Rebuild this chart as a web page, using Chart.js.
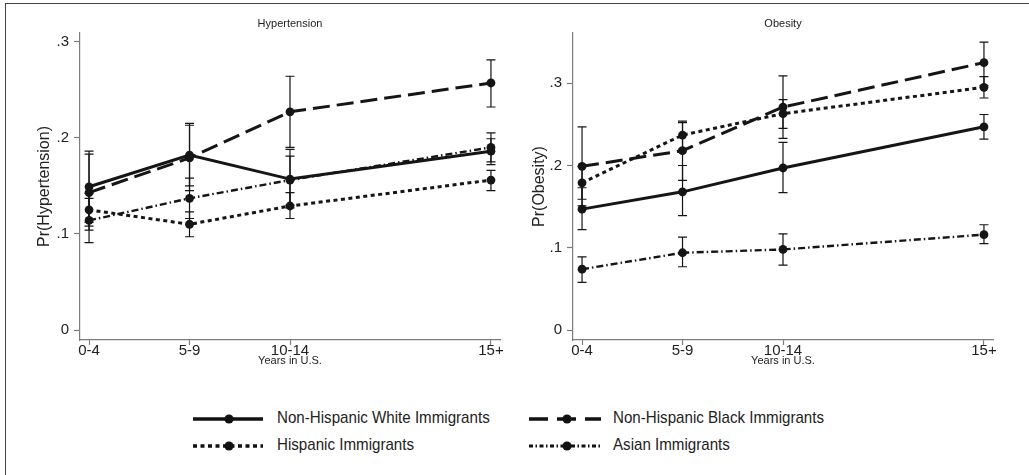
<!DOCTYPE html>
<html lang="en">
<head>
    <meta charset="UTF-8">
    <title>Hypertension and Obesity by Years in U.S.</title>
    <script src="https://cdn.jsdelivr.net/npm/chart.js"></script>
    <style>
        body { margin: 0; background: #fff; font-family: "Liberation Sans", Arial, sans-serif; }
        #wrap { position: relative; width: 1029px; height: 475px; overflow: hidden; }
        #frame { position: absolute; left: 5px; top: 3px; right: -10px; bottom: -10px;
                 border-left: 1.5px solid #444; border-top: 1.5px solid #444; }
        .panel { position: absolute; top: 0; height: 380px; }
        .leg { position: absolute; height: 20px; }
        .leg svg { position: absolute; left: 0; top: 0; }
        .leg span { position: absolute; top: -1px; font-size: 17px; color: #222; white-space: nowrap;
                    transform: scaleX(0.89); transform-origin: left center; line-height: 20px; }
    </style>
</head>
<body>
<div id="wrap">
    <div id="frame"></div>
    <div class="panel" style="left:0;width:515px"><canvas id="hyp"></canvas></div>
    <div class="panel" style="left:515px;width:514px"><canvas id="obe"></canvas></div>

    <div class="leg" style="left:193px;top:409px">
        <svg width="72" height="20"><line x1="0" y1="10" x2="70" y2="10" stroke="#111" stroke-width="3.5"/><circle cx="36" cy="10" r="4.6" fill="#111"/></svg>
        <span style="left:84px">Non-Hispanic White Immigrants</span>
    </div>
    <div class="leg" style="left:529px;top:409px">
        <svg width="74" height="20"><line x1="0" y1="10" x2="72" y2="10" stroke="#111" stroke-width="3.5" stroke-dasharray="19,9"/><circle cx="38" cy="10" r="4.6" fill="#111"/></svg>
        <span style="left:84px">Non-Hispanic Black Immigrants</span>
    </div>
    <div class="leg" style="left:193px;top:436px">
        <svg width="72" height="20"><line x1="0" y1="10" x2="70" y2="10" stroke="#111" stroke-width="3.5" stroke-dasharray="4,3.5"/><circle cx="36" cy="10" r="4.6" fill="#111"/></svg>
        <span style="left:84px">Hispanic Immigrants</span>
    </div>
    <div class="leg" style="left:529px;top:436px">
        <svg width="74" height="20"><line x1="0" y1="10" x2="72" y2="10" stroke="#111" stroke-width="3" stroke-dasharray="4,2.5,1.5,2.5"/><circle cx="38" cy="10" r="4.6" fill="#111"/></svg>
        <span style="left:84px">Asian Immigrants</span>
    </div>
</div>

<script>
// categories (x positions keep the wider gap before 15+)
const yearGroups = ['0-4', '5-9', '10-14', '15+'];
const yearPos = [0, 1, 2, 4];
const yTicks = [0, 0.1, 0.2, 0.3];

// Hypertension: predicted probability and CI
const hypWhite = [0.149, 0.182, 0.157, 0.186];
const hypWhiteLo = [0.112, 0.150, 0.127, 0.172];
const hypWhiteHi = [0.186, 0.215, 0.188, 0.199];
const hypBlack = [0.143, 0.179, 0.227, 0.257];
const hypBlackLo = [0.104, 0.145, 0.190, 0.232];
const hypBlackHi = [0.183, 0.213, 0.264, 0.281];
const hypHisp = [0.125, 0.110, 0.129, 0.156];
const hypHispLo = [0.108, 0.097, 0.116, 0.145];
const hypHispHi = [0.142, 0.123, 0.143, 0.166];
const hypAsian = [0.114, 0.137, 0.156, 0.190];
const hypAsianLo = [0.091, 0.116, 0.130, 0.175];
const hypAsianHi = [0.137, 0.158, 0.181, 0.205];

// Obesity
const obeWhite = [0.147, 0.168, 0.197, 0.247];
const obeWhiteLo = [0.122, 0.139, 0.167, 0.232];
const obeWhiteHi = [0.173, 0.200, 0.228, 0.262];
const obeBlack = [0.199, 0.218, 0.271, 0.325];
const obeBlackLo = [0.151, 0.182, 0.233, 0.297];
const obeBlackHi = [0.247, 0.252, 0.309, 0.350];
const obeHisp = [0.179, 0.237, 0.263, 0.295];
const obeHispLo = [0.159, 0.220, 0.245, 0.282];
const obeHispHi = [0.199, 0.254, 0.280, 0.308];
const obeAsian = [0.074, 0.094, 0.098, 0.116];
const obeAsianLo = [0.058, 0.077, 0.079, 0.105];
const obeAsianHi = [0.089, 0.113, 0.117, 0.128];

const ink = '#151515';
const axisGray = '#7d7d7d';

// line look per group
const styles = [
    { borderWidth: 3, borderDash: [] },
    { borderWidth: 3, borderDash: [17, 7] },
    { borderWidth: 3, borderDash: [4, 3.5] },
    { borderWidth: 2.4, borderDash: [7, 3, 1.5, 3] }
];

function series(vals, lo, hi, i) {
    return {
        data: yearPos.map((x, k) => ({ x: x, y: vals[k] })),
        lo: lo, hi: hi,
        borderColor: ink,
        borderWidth: styles[i].borderWidth,
        borderDash: styles[i].borderDash,
        pointRadius: 4.4,
        pointBackgroundColor: ink,
        pointBorderWidth: 0,
        tension: 0,
        fill: false
    };
}

// rcap-style error bars drawn through the chart scales
const errorBars = {
    id: 'errorBars',
    beforeDatasetsDraw(chart) {
        const ctx = chart.ctx;
        const xs = chart.scales.x, ys = chart.scales.y;
        ctx.save();
        ctx.strokeStyle = ink;
        ctx.lineWidth = 1.2;
        chart.data.datasets.forEach(ds => {
            yearPos.forEach((xv, k) => {
                const x = xs.getPixelForValue(xv);
                const y1 = ys.getPixelForValue(ds.lo[k]);
                const y2 = ys.getPixelForValue(ds.hi[k]);
                ctx.beginPath();
                ctx.moveTo(x, y1); ctx.lineTo(x, y2);
                ctx.moveTo(x - 4.5, y1); ctx.lineTo(x + 4.5, y1);
                ctx.moveTo(x - 4.5, y2); ctx.lineTo(x + 4.5, y2);
                ctx.stroke();
            });
        });
        ctx.restore();
    }
};

function makePanel(id, title, yTitle, datasets, yMin, yMax, yWidth, yTitlePad, padRight) {
    return new Chart(document.getElementById(id), {
        type: 'line',
        data: { datasets: datasets },
        plugins: [errorBars],
        options: {
            responsive: true,
            maintainAspectRatio: false,
            animation: false,
            layout: { padding: { left: 0, right: padRight, top: 0, bottom: 0 } },
            plugins: {
                legend: { display: false },
                tooltip: { enabled: false },
                title: {
                    display: true, text: title, fullSize: false, color: '#222',
                    font: { family: 'Liberation Sans', size: 11, weight: 'normal' },
                    padding: { top: 17.4, bottom: 2.4 }
                }
            },
            scales: {
                x: {
                    type: 'linear', min: -0.09, max: 4.09,
                    afterBuildTicks: s => { s.ticks = yearPos.map(v => ({ value: v })); },
                    afterFit: s => { s.height = 40; },
                    grid: { drawOnChartArea: false, tickLength: 5, tickColor: axisGray, tickWidth: 1.2 },
                    border: { color: axisGray, width: 1.2 },
                    ticks: {
                        padding: -3, color: '#222', maxRotation: 0,
                        font: { family: 'Liberation Sans', size: 15 },
                        callback: v => yearGroups[yearPos.indexOf(v)]
                    },
                    title: {
                        display: true, text: 'Years in U.S.', color: '#222',
                        font: { family: 'Liberation Sans', size: 11 },
                        padding: { top: 0, bottom: 12 }
                    }
                },
                y: {
                    min: yMin, max: yMax,
                    afterBuildTicks: s => { s.ticks = yTicks.map(v => ({ value: v })); },
                    afterFit: s => { s.width = yWidth; },
                    grid: { drawOnChartArea: false, tickLength: 6, tickColor: axisGray, tickWidth: 1.2 },
                    border: { color: axisGray, width: 1.2 },
                    ticks: {
                        padding: 5, color: '#222',
                        font: { family: 'Liberation Sans', size: 15 },
                        callback: v => v === 0 ? '0' : v.toFixed(1).replace(/^0/, '')
                    },
                    title: {
                        display: true, text: yTitle, color: '#222',
                        font: { family: 'Liberation Sans', size: 16 },
                        padding: { top: yTitlePad, bottom: 0 }
                    }
                }
            }
        }
    });
}

makePanel('hyp', 'Hypertension', 'Pr(Hypertension)', [
    series(hypWhite, hypWhiteLo, hypWhiteHi, 0),
    series(hypBlack, hypBlackLo, hypBlackHi, 1),
    series(hypHisp, hypHispLo, hypHispHi, 2),
    series(hypAsian, hypAsianLo, hypAsianHi, 3)
], -0.0104, 0.309, 80, 35.4, 15);

makePanel('obe', 'Obesity', 'Pr(Obesity)', [
    series(obeWhite, obeWhiteLo, obeWhiteHi, 0),
    series(obeBlack, obeBlackLo, obeBlackHi, 1),
    series(obeHisp, obeHispLo, obeHispHi, 2),
    series(obeAsian, obeAsianLo, obeAsianHi, 3)
], -0.012, 0.361, 58, 15.4, 36);
</script>
</body>
</html>
